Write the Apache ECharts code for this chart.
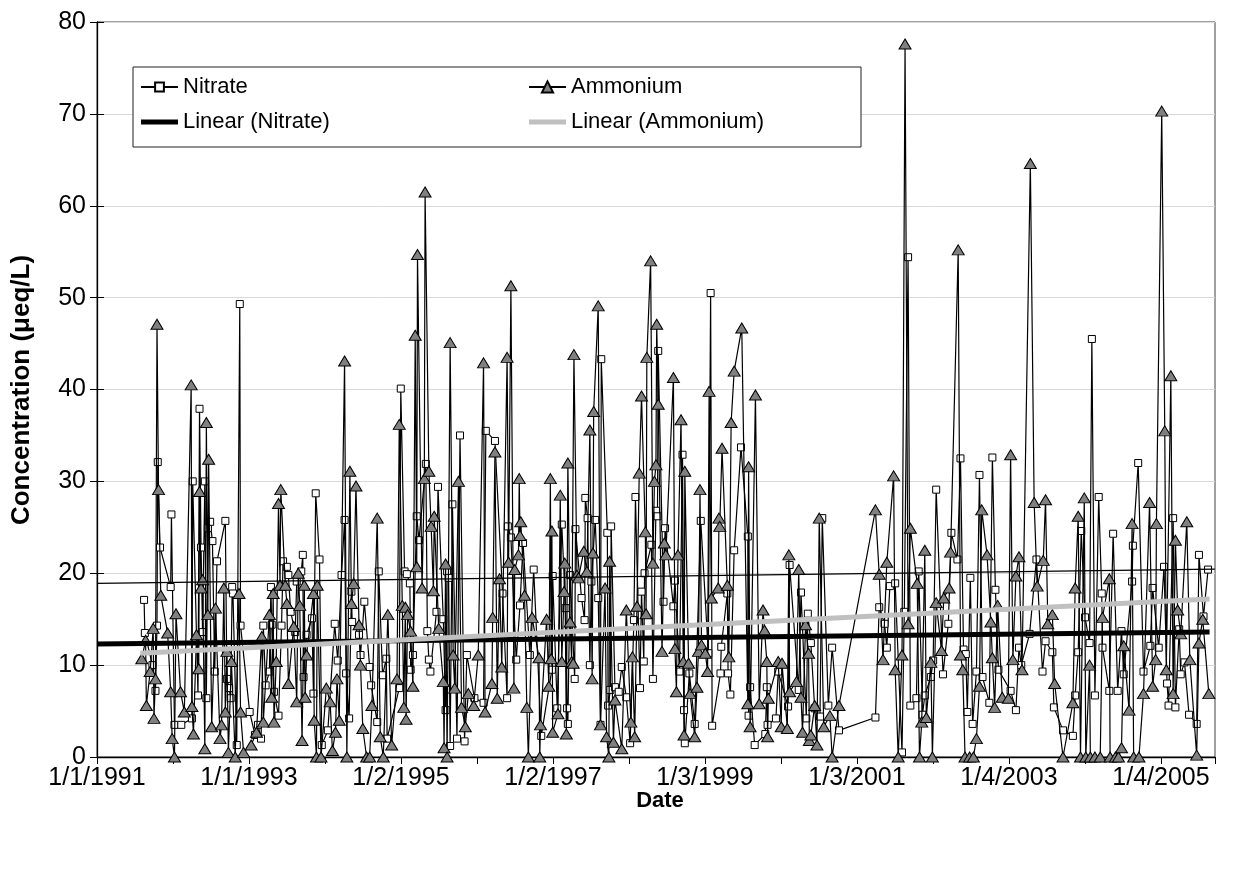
<!DOCTYPE html>
<html><head><meta charset="utf-8">
<script src="https://cdn.jsdelivr.net/npm/echarts@6/dist/echarts.min.js"></script>
<style>html,body{margin:0;padding:0;background:#fff}#c{width:1239px;height:872px}</style>
</head><body><div id="c"></div>
<script>
// Sample dates as decimal years, concentrations in µeq/L
const nitrate = [
[1991.62,17.1],[1991.63,13.5],[1991.73,10.0],[1991.77,7.2],[1991.79,14.3],[1991.80,32.1],[1991.83,22.8],[1991.97,18.5],[1991.98,26.4],[1992.02,3.5],[1992.11,3.5],[1992.25,4.2],[1992.26,30.0],[1992.33,6.7],[1992.35,37.9],[1992.37,22.8],[1992.39,13.6],[1992.42,30.0],[1992.44,6.4],[1992.46,24.9],[1992.49,25.6],[1992.52,23.5],[1992.55,9.3],[1992.58,21.3],[1992.69,25.7],[1992.71,8.5],[1992.74,7.5],[1992.76,6.4],[1992.78,18.5],[1992.79,17.8],[1992.84,1.3],[1992.88,49.3],[1992.89,14.3],[1993.01,4.9],
[1993.08,2.4],[1993.12,3.5],[1993.16,2.0],[1993.19,14.3],[1993.22,7.8],[1993.27,9.3],[1993.29,18.5],[1993.30,14.4],[1993.33,7.1],[1993.39,4.5],[1993.43,14.3],[1993.45,21.3],[1993.50,20.7],[1993.52,19.8],[1993.55,15.8],[1993.61,13.6],[1993.63,19.1],[1993.69,20.2],[1993.71,22.0],[1993.72,8.7],[1993.76,13.3],[1993.83,15.1],[1993.85,6.9],[1993.88,28.7],[1993.93,21.5],[1993.96,1.3],
[1994.04,2.9],[1994.13,14.5],[1994.17,10.5],[1994.22,19.8],[1994.26,25.8],[1994.28,9.1],[1994.32,4.2],[1994.35,18.0],[1994.36,14.7],[1994.45,13.3],[1994.47,11.1],[1994.52,16.9],[1994.59,9.8],[1994.61,7.8],[1994.69,3.8],[1994.71,20.2],[1994.76,8.9],[1994.81,10.7],[1994.82,2.0],[1994.98,7.5],
[1995.00,40.1],[1995.05,20.2],[1995.08,19.9],[1995.12,18.9],[1995.13,9.5],[1995.16,11.1],[1995.21,26.2],[1995.24,23.6],[1995.33,31.9],[1995.35,13.7],[1995.37,10.6],[1995.39,9.3],[1995.47,15.8],[1995.49,29.4],[1995.56,15.0],[1995.59,5.1],[1995.61,20.2],[1995.63,19.5],[1995.65,1.2],[1995.68,27.5],[1995.74,2.0],[1995.78,35.0],[1995.84,1.7],[1995.87,11.1],
[1995.97,6.4],[1996.09,5.9],[1996.12,35.5],[1996.24,34.4],[1996.34,17.8],[1996.40,6.4],[1996.41,25.1],[1996.45,23.9],[1996.52,10.6],[1996.57,16.5],[1996.61,23.3],[1996.70,11.1],[1996.75,20.4],[1996.85,2.3],
[1996.99,9.5],[1997.00,19.7],[1997.06,5.3],[1997.12,25.3],[1997.17,16.2],[1997.19,5.3],[1997.20,3.6],[1997.23,19.8],[1997.29,8.5],[1997.30,24.8],[1997.38,17.3],[1997.42,14.9],[1997.43,28.2],[1997.46,26.0],[1997.49,10.0],[1997.51,19.1],[1997.56,25.8],[1997.60,17.3],[1997.63,3.5],[1997.64,43.3],[1997.72,24.4],[1997.73,5.6],[1997.76,7.3],[1997.77,25.1],[1997.82,7.6],[1997.87,7.1],
[1997.91,9.8],[1997.97,6.5],[1998.02,1.5],[1998.07,14.9],[1998.09,28.3],[1998.15,7.5],[1998.17,18.0],[1998.20,10.4],[1998.21,20.0],[1998.30,23.1],[1998.32,8.5],[1998.36,26.8],[1998.38,26.2],[1998.39,44.2],[1998.46,16.9],[1998.48,24.9],[1998.59,16.4],[1998.61,19.2],[1998.67,9.3],[1998.71,32.9],[1998.73,5.1],[1998.74,1.5],[1998.80,9.1],
[1998.87,3.6],[1998.95,25.7],[1999.05,11.3],[1999.08,50.5],[1999.10,3.4],[1999.21,9.1],[1999.22,12.0],[1999.30,17.8],[1999.31,9.1],[1999.34,6.8],[1999.39,22.5],[1999.48,33.7],[1999.57,24.0],[1999.58,4.5],[1999.60,7.6],[1999.66,1.3],[1999.80,2.5],
[1999.82,7.6],[1999.83,3.5],[1999.94,4.2],[1999.97,9.3],[2000.10,5.5],[2000.12,20.9],[2000.24,7.3],[2000.27,17.9],[2000.34,4.2],[2000.36,15.6],[2000.40,12.4],[2000.45,5.3],[2000.52,4.4],[2000.55,26.0],[2000.63,5.6],[2000.68,11.9],[2000.77,2.9],
[2001.25,4.3],[2001.30,16.3],[2001.37,14.5],[2001.40,11.9],[2001.44,18.6],[2001.51,18.9],[2001.60,0.5],[2001.63,15.8],[2001.68,54.4],[2001.71,5.6],
[2001.79,6.4],[2001.82,20.2],[2001.87,4.6],[2001.90,6.7],[2001.98,8.7],[2002.01,10.5],[2002.05,29.1],[2002.14,9.0],[2002.21,14.5],[2002.25,24.4],[2002.33,21.5],[2002.37,32.5],[2002.41,11.7],[2002.44,11.2],[2002.46,4.9],[2002.50,19.5],[2002.53,3.6],[2002.58,9.3],[2002.62,30.7],[2002.66,8.7],
[2002.75,5.9],[2002.79,32.6],[2002.83,18.2],[2002.87,9.5],[2003.03,7.2],[2003.10,5.1],[2003.14,11.9],[2003.17,10.0],[2003.28,13.4],[2003.37,21.5],[2003.45,9.3],[2003.49,12.6],[2003.58,11.4],[2003.60,5.4],
[2003.72,2.9],[2003.85,2.3],[2003.88,6.7],[2003.92,11.4],[2003.96,24.6],[2004.01,15.2],[2004.07,12.4],[2004.10,45.5],[2004.14,6.7],[2004.19,28.3],[2004.23,17.8],[2004.24,11.9],[2004.33,7.2],[2004.38,24.3],[2004.44,7.2],[2004.49,13.7],[2004.52,9.0],[2004.63,19.1],[2004.64,23.0],
[2004.71,32.0],[2004.78,9.3],[2004.87,12.1],[2004.90,18.4],[2004.98,11.9],[2005.05,20.7],[2005.09,8.0],[2005.11,5.6],[2005.17,26.0],[2005.20,5.4],[2005.25,13.9],[2005.27,9.0],[2005.32,10.3],[2005.38,4.6],[2005.48,3.6],[2005.51,22.0],[2005.57,15.3],[2005.63,20.4]
];
const ammonium = [
[1991.59,10.7],[1991.64,12.7],[1991.65,5.6],[1991.70,9.3],[1991.74,14.0],[1991.75,4.2],[1991.77,8.5],[1991.79,47.1],[1991.81,29.1],[1991.84,17.6],[1991.93,13.5],[1991.97,7.1],[1991.99,2.0],[1992.02,0],[1992.04,15.6],
[1992.10,7.1],[1992.15,4.9],[1992.24,40.5],[1992.25,5.5],[1992.27,2.5],[1992.31,13.3],[1992.34,9.6],[1992.35,28.9],[1992.37,18.4],[1992.39,19.3],[1992.42,0.9],[1992.44,36.4],[1992.46,15.5],[1992.47,32.4],[1992.51,3.3],[1992.56,16.2],[1992.62,2.0],[1992.64,3.5],[1992.67,18.4],[1992.69,4.9],[1992.71,11.5],[1992.73,0.5],[1992.77,10.4],[1992.82,0],[1992.87,17.8],[1992.89,4.9],[1992.93,0.5],[1993.03,1.3],
[1993.10,2.7],[1993.17,13.1],[1993.19,3.8],[1993.27,15.5],[1993.30,6.5],[1993.32,17.8],[1993.33,3.8],[1993.36,10.4],[1993.39,27.6],[1993.41,18.7],[1993.42,29.1],[1993.48,18.7],[1993.50,16.7],[1993.52,8.0],[1993.59,14.2],[1993.63,6.0],[1993.65,20.0],[1993.67,16.5],[1993.70,1.8],[1993.73,18.7],[1993.74,6.5],[1993.76,11.1],[1993.85,17.8],[1993.86,4.0],[1993.89,0],[1993.90,18.7],[1993.95,0],
[1994.02,7.5],[1994.07,6.0],[1994.10,0.7],[1994.14,2.7],[1994.16,8.5],[1994.19,4.0],[1994.26,43.1],[1994.29,0],[1994.33,31.1],[1994.35,16.7],[1994.38,18.9],[1994.41,29.5],[1994.45,14.4],[1994.47,10.0],[1994.50,3.1],[1994.55,0],[1994.59,0],[1994.62,5.6],[1994.69,26.0],[1994.73,2.2],[1994.77,0],[1994.83,15.5],[1994.88,1.3],[1994.95,8.5],[1994.98,36.2],
[1995.02,16.5],[1995.04,5.4],[1995.06,16.3],[1995.07,4.1],[1995.09,15.5],[1995.13,13.7],[1995.16,7.7],[1995.19,45.9],[1995.21,20.7],[1995.22,54.7],[1995.28,18.4],[1995.31,30.3],[1995.32,61.5],[1995.37,31.1],[1995.40,25.1],[1995.43,18.1],[1995.44,26.2],[1995.50,14.0],[1995.56,8.2],[1995.57,1.0],[1995.59,21.0],[1995.61,0],[1995.65,45.1],[1995.69,11.1],[1995.71,7.5],[1995.76,30.0],[1995.80,5.4],[1995.85,3.3],[1995.89,6.9],
[1995.96,5.6],[1996.02,11.1],[1996.09,42.9],[1996.11,4.9],[1996.20,8.0],[1996.21,15.2],[1996.24,33.2],[1996.27,6.4],[1996.30,19.4],[1996.33,9.8],[1996.40,43.5],[1996.42,21.2],[1996.45,51.3],[1996.49,7.5],[1996.50,20.4],[1996.55,22.0],[1996.56,30.3],[1996.57,24.1],[1996.58,25.6],[1996.63,17.6],[1996.66,5.4],[1996.68,0],[1996.73,15.2],[1996.82,10.8],[1996.83,0],[1996.84,3.5],
[1996.92,15.0],[1996.95,7.7],[1996.97,30.3],[1996.98,10.7],[1996.99,24.6],[1997.00,2.7],[1997.07,4.7],[1997.10,28.5],[1997.12,10.4],[1997.15,18.0],[1997.16,21.1],[1997.18,2.5],[1997.20,32.0],[1997.23,14.7],[1997.25,10.4],[1997.27,10.2],[1997.28,43.8],[1997.32,19.8],[1997.34,19.5],[1997.41,22.4],[1997.45,20.2],[1997.49,35.6],[1997.52,8.5],[1997.53,22.2],[1997.54,37.6],[1997.60,49.1],[1997.63,3.5],[1997.69,18.4],[1997.71,2.2],[1997.74,0],[1997.75,21.3],[1997.80,1.6],[1997.82,6.2],
[1997.91,0.9],[1997.97,16.0],[1998.03,3.8],[1998.05,10.9],[1998.08,2.2],[1998.11,16.4],[1998.14,30.9],[1998.17,39.3],[1998.22,24.5],[1998.23,15.6],[1998.24,43.5],[1998.29,54.0],[1998.32,21.1],[1998.34,30.0],[1998.36,31.8],[1998.37,47.1],[1998.39,38.4],[1998.44,11.5],[1998.47,23.3],[1998.49,22.0],[1998.59,41.3],[1998.61,11.8],[1998.63,7.1],[1998.65,22.0],[1998.69,36.7],[1998.72,10.4],[1998.73,2.4],[1998.74,31.1],[1998.79,10.2],[1998.81,6.9],
[1998.87,2.2],[1998.90,7.6],[1998.92,11.5],[1998.94,29.1],[1998.96,12.2],[1999.01,11.3],[1999.04,9.3],[1999.06,39.8],[1999.09,17.3],[1999.18,18.4],[1999.19,26.0],[1999.20,25.1],[1999.23,33.6],[1999.30,18.7],[1999.32,10.9],[1999.35,36.4],[1999.39,42.0],[1999.49,46.7],[1999.57,5.8],[1999.58,31.6],[1999.60,3.3],[1999.67,39.4],[1999.72,5.8],[1999.77,16.0],[1999.79,13.8],
[1999.82,10.4],[1999.83,2.2],[1999.84,6.4],[1999.97,10.4],[2000.01,3.3],[2000.02,10.2],[2000.09,3.1],[2000.11,22.0],[2000.12,7.1],[2000.21,8.2],[2000.24,20.4],[2000.27,6.5],[2000.29,2.7],[2000.33,14.4],[2000.37,11.3],[2000.38,1.8],[2000.40,2.4],[2000.45,5.6],[2000.48,1.3],[2000.51,26.0],[2000.57,3.3],[2000.65,4.5],[2000.68,0],[2000.77,5.6],
[2001.25,26.9],[2001.30,19.9],[2001.35,10.6],[2001.40,21.2],[2001.49,30.6],[2001.51,9.5],[2001.55,0],[2001.60,11.1],[2001.64,77.6],[2001.68,14.5],[2001.71,24.9],
[2001.80,18.9],[2001.83,0],[2001.86,3.8],[2001.90,22.5],[2001.92,4.3],[2001.98,10.3],[2002.00,0],[2002.05,16.8],[2002.12,11.6],[2002.15,17.3],[2002.22,18.4],[2002.24,22.3],[2002.34,55.2],[2002.37,11.1],[2002.40,9.5],[2002.43,0],[2002.49,0],[2002.54,0],[2002.58,2.0],[2002.62,7.7],[2002.65,26.9],[2002.72,22.0],
[2002.77,14.7],[2002.79,10.8],[2002.82,5.4],[2002.86,16.5],[2002.92,6.5],[2003.00,6.4],[2003.03,32.9],[2003.06,10.6],[2003.10,19.7],[2003.14,21.8],[2003.18,9.5],[2003.29,64.6],[2003.34,27.7],[2003.38,18.6],[2003.46,21.4],[2003.49,28.0],[2003.52,14.5],[2003.58,15.5],[2003.61,8.0],
[2003.72,0],[2003.85,5.9],[2003.88,18.4],[2003.92,26.2],[2003.95,0],[2004.00,28.2],[2004.02,0],[2004.07,10.0],[2004.08,0],[2004.14,0],[2004.21,0],[2004.24,15.2],[2004.33,19.4],[2004.34,0],[2004.41,0],[2004.45,0],[2004.49,1.0],[2004.52,12.1],[2004.59,5.1],[2004.63,25.4],[2004.65,0],
[2004.72,0],[2004.78,6.9],[2004.86,27.7],[2004.90,7.7],[2004.94,10.6],[2004.95,25.4],[2005.02,70.3],[2005.06,35.5],[2005.08,9.5],[2005.14,41.5],[2005.17,6.9],[2005.20,23.6],[2005.23,16.0],[2005.27,13.4],[2005.35,25.6],[2005.39,10.6],[2005.48,0.2],[2005.51,12.4],[2005.56,15.0],[2005.64,6.9]
];
const nitrateTrend = [[1991.00,12.3],[2005.65,13.6]];
const ammoniumTrend = [[1991.57,11.3],[2005.65,17.2]];
const thinLine = [[1991.00,18.9],[2005.72,20.45]];
const seriesNames = ['Nitrate','Ammonium','Linear (Nitrate)','Linear (Ammonium)'];
const yMin = 0, yMax = 80, yStep = 10;
const xLabelStepDays = 731, xTickStepDays = 365.5, xMaxDays = 5377;  // days from 1/1/1991
const yTitle = 'Concentration (\u03bceq/L)';
const xTitle = 'Date';

const FONT = '"Liberation Sans", Arial, Helvetica, sans-serif';
const toDays = yr => (yr - 1991) * 365.25;
const conv = arr => arr.slice().sort((a,b)=>a[0]-b[0]).map(p => [toDays(p[0]), p[1]]);
const fmtDate = days => {
  const d = new Date(Date.UTC(1991,0,1) + Math.round(days) * 86400000);
  return (d.getUTCMonth()+1) + '/' + d.getUTCDate() + '/' + d.getUTCFullYear();
};
const trendIcon = 'path://M0,0H37V5H0Z';

const chart = echarts.init(document.getElementById('c'), null, {renderer:'canvas'});
chart.setOption({
  animation: false,
  backgroundColor: '#fff',
  grid: {left: 97, top: 22, right: 24, bottom: 115, containLabel: false, outerBoundsMode: 'none',
         show: true, borderColor: '#404040', borderWidth: 1, backgroundColor: 'transparent'},
  xAxis: [{
    type: 'value', min: 0, max: xMaxDays, interval: xLabelStepDays, position: 'bottom',
    axisLine: {show: true, onZero: false, lineStyle: {color: '#000', width: 1.3}},
    axisTick: {show: false},
    axisLabel: {formatter: v => fmtDate(v), showMaxLabel: false, showMinLabel: true, margin: 9,
      color: '#000', fontSize: 25, fontFamily: FONT},
    splitLine: {show: false}
  },{
    type: 'value', min: 0, max: xMaxDays, interval: xTickStepDays, position: 'bottom', offset: 0,
    axisLine: {show: false},
    axisTick: {show: true, length: 7, inside: false, lineStyle: {color: '#000', width: 1}},
    axisLabel: {show: false}, splitLine: {show: false}
  }],
  yAxis: [{
    type: 'value', min: yMin, max: yMax, interval: yStep,
    axisLine: {show: true, lineStyle: {color: '#000', width: 1.3}},
    axisTick: {show: true, length: 7, inside: false, lineStyle: {color: '#000', width: 1}},
    axisLabel: {margin: 11, color: '#000', fontSize: 25, fontFamily: FONT},
    splitLine: {show: true, lineStyle: {color: '#d9d9d9', width: 1}}
  },{
    type: 'value', min: yMin, max: yMax, interval: yStep, position: 'left',
    axisLine: {show: false},
    axisTick: {show: true, length: 7, inside: true, lineStyle: {color: '#000', width: 1}},
    axisLabel: {show: false}, splitLine: {show: false}
  }],
  legend: [{
    data: [{name: seriesNames[0]}, {name: seriesNames[2], icon: trendIcon}],
    orient: 'vertical', left: 140, top: 74, padding: 0, itemGap: 9,
    itemWidth: 37, itemHeight: 11, selectedMode: false, z: 10,
    textStyle: {fontSize: 22, lineHeight: 26, color: '#000', fontFamily: FONT}
  },{
    data: [{name: seriesNames[1]}, {name: seriesNames[3], icon: trendIcon}],
    orient: 'vertical', left: 528, top: 74, padding: 0, itemGap: 9,
    itemWidth: 37, itemHeight: 14, selectedMode: false, z: 10,
    textStyle: {fontSize: 22, lineHeight: 26, color: '#000', fontFamily: FONT}
  }],
  graphic: [
    {type: 'rect', z: 9, shape: {x: 133, y: 67, width: 728, height: 80},
     style: {fill: '#fff', stroke: '#202020', lineWidth: 1}},
    {type: 'text', z: 10, x: 22, y: 390, rotation: Math.PI / 2,
     style: {text: yTitle, font: 'bold 26px ' + FONT, fill: '#000', align: 'center', verticalAlign: 'middle'}},
    {type: 'text', z: 10, x: 660, y: 801,
     style: {text: xTitle, font: 'bold 22px ' + FONT, fill: '#000', align: 'center', verticalAlign: 'middle'}}
  ],
  series: [
    {type: 'line', name: seriesNames[0], data: conv(nitrate), z: 2,
     symbol: 'rect', symbolSize: 7, showSymbol: true, showAllSymbol: true,
     itemStyle: {color: '#fff', borderColor: '#000', borderWidth: 1},
     lineStyle: {color: '#000', width: 1.2}, emphasis: {disabled: true}},
    {type: 'line', name: seriesNames[1], data: conv(ammonium), z: 3,
     symbol: 'triangle', symbolSize: [12, 10], showSymbol: true, showAllSymbol: true,
     itemStyle: {color: '#808080', borderColor: '#000', borderWidth: 1},
     lineStyle: {color: '#000', width: 1.2}, emphasis: {disabled: true}},
    {type: 'line', name: seriesNames[2], data: conv(nitrateTrend), z: 5, color: '#000',
     symbol: 'none', itemStyle: {color: '#000'}, lineStyle: {color: '#000', width: 5}, emphasis: {disabled: true}},
    {type: 'line', name: seriesNames[3], data: conv(ammoniumTrend), z: 6, color: '#c0c0c0',
     symbol: 'none', itemStyle: {color: '#c0c0c0'}, lineStyle: {color: '#c0c0c0', width: 5}, emphasis: {disabled: true}},
    {type: 'line', name: 'thin', data: conv(thinLine), z: 7, silent: true,
     symbol: 'none', lineStyle: {color: '#000', width: 1.2}, emphasis: {disabled: true}}
  ]
});
</script></body></html>
